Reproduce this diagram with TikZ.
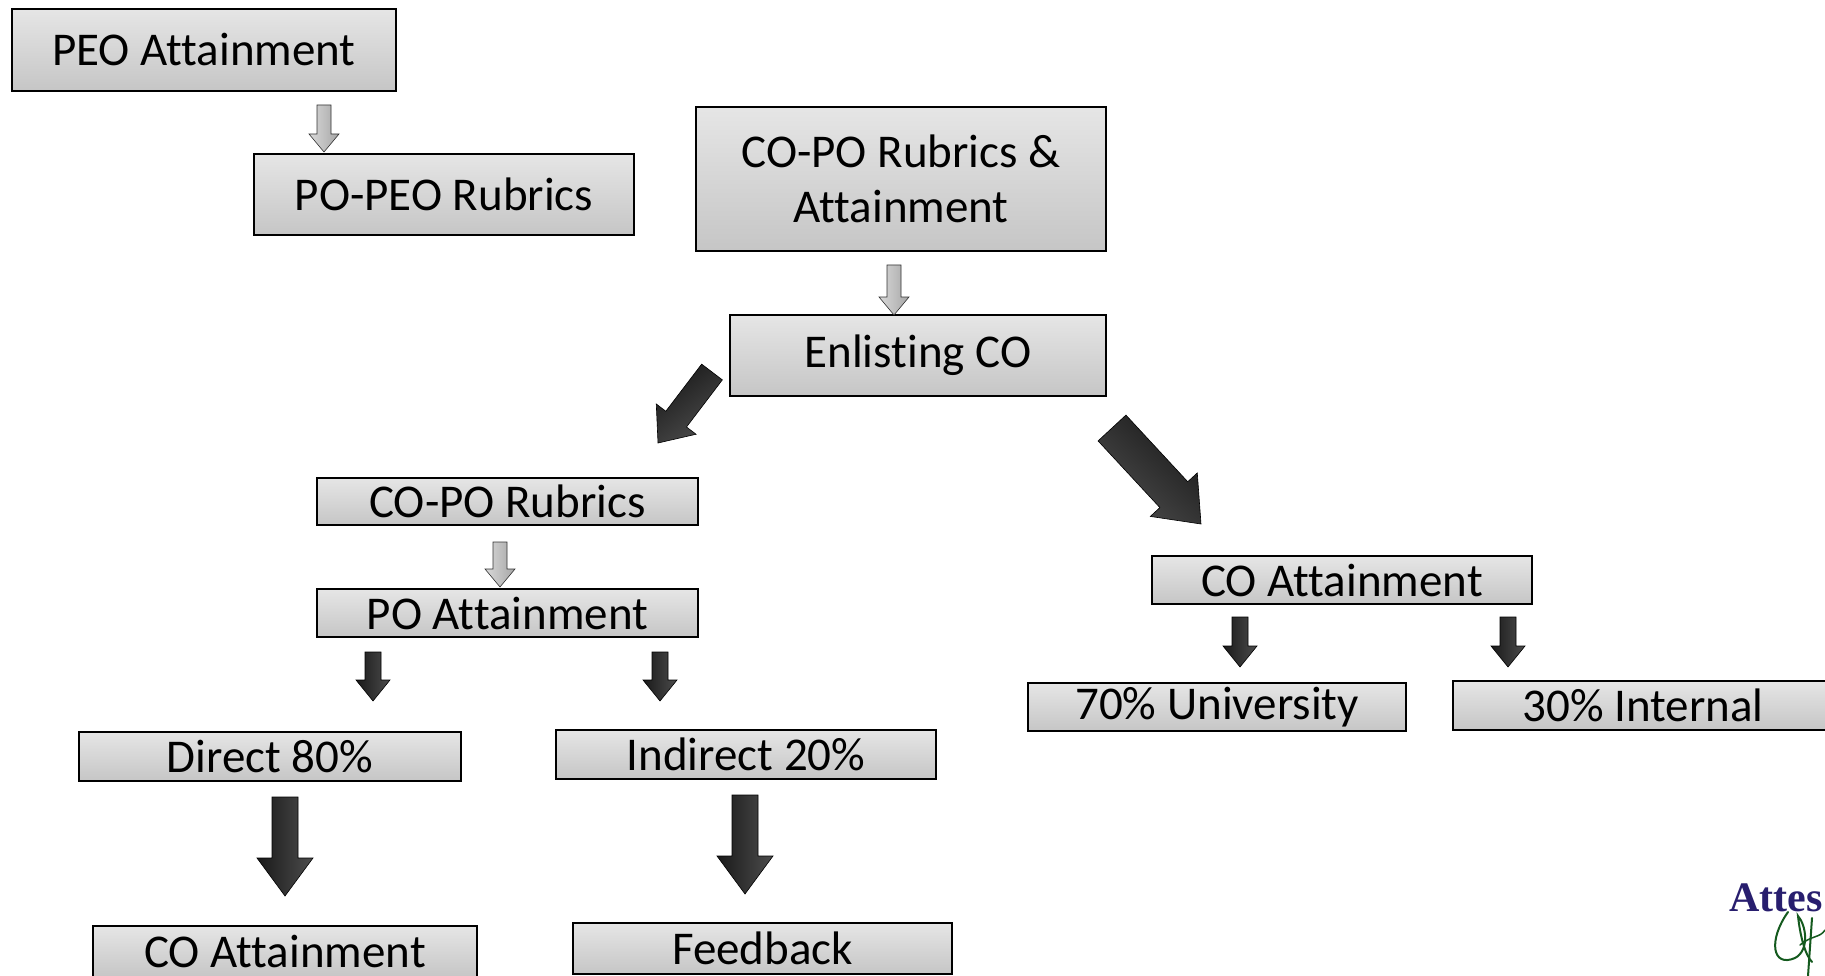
\documentclass[tikz,border=0pt]{standalone}
\usepackage{fontspec}
\setmainfont{Carlito}[RawFeature={-liga}]
\newfontfamily\sigfont{Liberation Serif}
\usetikzlibrary{calc}
\definecolor{navy}{RGB}{40,30,110}
\definecolor{siggreen}{RGB}{20,90,30}
\tikzset{
  box/.style={draw=black, line width=2pt, top color=gray!20, middle color=gray!8, bottom color=gray!45,
    inner sep=0pt, align=center, font=\fontsize{47}{55}\selectfont},
  lightarrow/.style={draw=gray!40!black, line width=0.6pt, left color=gray!30, right color=gray!70},
  darkarrow/.style={draw=black, line width=0.6pt, left color=black!90, right color=gray!60!black},
}
% #1 style, #2 tail, #3 tip, #4 half shaft, #5 half head, #6 head length
\newcommand{\blockarrow}[6]{%
  \coordinate (ba-neck) at ($(#3)!#6!(#2)$);
  \path[#1] ($(#2)!#4!90:(#3)$) -- ($(ba-neck)!#4!90:(#3)$) -- ($(ba-neck)!#5!90:(#3)$)
    -- (#3) -- ($(ba-neck)!#5!-90:(#3)$) -- ($(ba-neck)!#4!-90:(#3)$) -- ($(#2)!#4!-90:(#3)$) -- cycle;
}
\begin{document}
\begin{tikzpicture}[x=1pt,y=-1pt]
\useasboundingbox (0,0) rectangle (1825,976);
\fill[white] (0,0) rectangle (1825,976);
\clip (0,0) rectangle (1825,976);

% boxes
\node[box, minimum width=384pt, minimum height=82pt] (peo) at (204,50) {PEO Attainment};
\node[box, minimum width=380pt, minimum height=81pt] (popeo) at (444,194.5) {PO-PEO Rubrics};
\node[box, minimum width=410pt, minimum height=144pt] (copo) at (901,179) {CO-PO Rubrics \&\\Attainment};
\node[box, minimum width=376pt, minimum height=81pt] (enl) at (918,355.5) {Enlisting CO};
\node[box, minimum width=381pt, minimum height=47pt] (copor) at (507.5,501.5) {CO-PO Rubrics};
\node[box, minimum width=381pt, minimum height=48pt] (poatt) at (507.5,613) {PO Attainment};
\node[box, minimum width=382pt, minimum height=49pt] (dir) at (270,756.5) {Direct 80\%};
\node[box, minimum width=380pt, minimum height=49pt] (ind) at (746,754.5) {Indirect 20\%};
\node[box, minimum width=384pt, minimum height=51pt] (coattA) at (285,951.5) {CO Attainment};
\node[box, minimum width=379pt, minimum height=51pt] (feed) at (762.5,948.5) {Feedback};
\node[box, minimum width=380pt, minimum height=48pt] (coattB) at (1342,580) {CO Attainment};
\node[box, minimum width=378pt, minimum height=48pt] (univ) at (1217,707) {70\% University};
\node[box, minimum width=380pt, minimum height=49pt] (int) at (1643,705.5) {30\% Internal};

% arrow end points
\coordinate (a1t) at (324,105);  \coordinate (a1h) at (324,152);
\coordinate (a2t) at (894,265);  \coordinate (a2h) at (894,315);
\coordinate (a3t) at (712,372);  \coordinate (a3h) at (658,443);
\coordinate (a4t) at (1112,428); \coordinate (a4h) at (1201,524);
\coordinate (a5t) at (500,542);  \coordinate (a5h) at (500,587);
\coordinate (a6t) at (373,652);  \coordinate (a6h) at (373,701);
\coordinate (a7t) at (660,652);  \coordinate (a7h) at (660,701);
\coordinate (a8t) at (285,797);  \coordinate (a8h) at (285,896);
\coordinate (a9t) at (745,795);  \coordinate (a9h) at (745,894);
\coordinate (a10t) at (1240,617); \coordinate (a10h) at (1240,667);
\coordinate (a11t) at (1508,617); \coordinate (a11h) at (1508,667);

\blockarrow{lightarrow}{a1t}{a1h}{7pt}{15pt}{18pt}
\blockarrow{lightarrow}{a2t}{a2h}{7pt}{15pt}{18pt}
\blockarrow{darkarrow, shading angle=37}{a3t}{a3h}{13pt}{25pt}{30pt}
\blockarrow{darkarrow, shading angle=-43}{a4t}{a4h}{19pt}{32pt}{40pt}
\blockarrow{lightarrow}{a5t}{a5h}{7pt}{15pt}{18pt}
\blockarrow{darkarrow}{a6t}{a6h}{8pt}{17pt}{21pt}
\blockarrow{darkarrow}{a7t}{a7h}{8pt}{17pt}{21pt}
\blockarrow{darkarrow}{a8t}{a8h}{13pt}{28pt}{38pt}
\blockarrow{darkarrow}{a9t}{a9h}{13pt}{28pt}{38pt}
\blockarrow{darkarrow}{a10t}{a10h}{8pt}{17pt}{21pt}
\blockarrow{darkarrow}{a11t}{a11h}{8pt}{17pt}{21pt}

% attestation
\node[anchor=base west, inner sep=0pt, text=navy, font=\sigfont\bfseries\fontsize{42}{44}\selectfont] (att) at (1729,911) {Attes};
\draw[siggreen, line width=2pt, line cap=round] (1788,912) .. controls (1768,940) and (1772,968) .. (1795,958)
  .. controls (1810,950) and (1806,925) .. (1798,916) .. controls (1800,935) and (1805,955) .. (1812,962);
\draw[siggreen, line width=2pt, line cap=round] (1812,918) -- (1808,976);
\draw[siggreen, line width=1.5pt, line cap=round] (1800,945) .. controls (1812,935) and (1820,938) .. (1825,930);
\end{tikzpicture}
\end{document}
